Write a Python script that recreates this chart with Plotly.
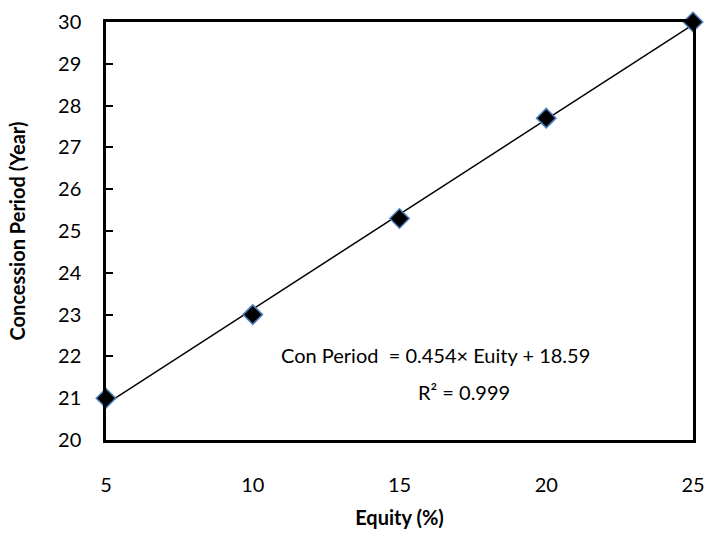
import numpy as np
import plotly.graph_objects as go

equity = [5, 10, 15, 20, 25]
period = [21, 23, 25.3, 27.7, 30]
x_ticks = [5, 10, 15, 20, 25]
y_ticks = list(range(20, 31))

slope, intercept = np.polyfit(equity, period, 1)
fit_x = [min(equity), max(equity)]
fit_y = [slope * v + intercept for v in fit_x]

FONT = "Lato"
FS = 20

fig = go.Figure()
fig.add_trace(go.Scatter(x=fit_x, y=fit_y, mode="lines",
                         line=dict(color="black", width=1.5), showlegend=False,
                         hoverinfo="skip"))
fig.add_trace(go.Scatter(x=equity, y=period, mode="markers",
                         marker=dict(symbol="diamond", size=15, color="black",
                                     line=dict(color="#4F81BD", width=1.5)),
                         showlegend=False, cliponaxis=False))

fig.add_annotation(x=16.24, y=22.03, text="Con Period  = 0.454× Euity + 18.59",
                   showarrow=False, font=dict(family=FONT, size=FS, color="black"),
                   xanchor="center", yanchor="middle")
fig.add_annotation(x=17.2, y=21.15, text="R² = 0.999",
                   showarrow=False, font=dict(family=FONT, size=FS, color="black"),
                   xanchor="center", yanchor="middle")

fig.update_layout(
    width=707, height=551,
    margin=dict(l=106, r=14, t=22, b=111, autoexpand=False),
    paper_bgcolor="white", plot_bgcolor="white",
    font=dict(family=FONT, size=FS, color="black"),
    xaxis=dict(range=[5, 25], tickvals=x_ticks, ticks="", showgrid=False,
               zeroline=False, showline=True, linecolor="black", linewidth=2.5,
               mirror=True, ticklabelstandoff=25, automargin=False,
               ticklabeloverflow="allow",
               title=dict(text="<b>Equity (%)</b>", standoff=17,
                          font=dict(size=FS))),
    yaxis=dict(range=[20, 30], tickvals=y_ticks, ticks="inside", ticklen=7,
               tickwidth=2, tickcolor="black", showgrid=False, zeroline=False,
               showline=True, linecolor="black", linewidth=2.5, mirror=True,
               ticklabelstandoff=18, automargin=False,
               ticklabeloverflow="allow",
               title=dict(text="<b>Concession Period (Year)</b>", standoff=28,
                          font=dict(size=FS))),
)

fig.write_html("out.html", config={"displayModeBar": False},
               post_script="document.body.style.margin='0';document.body.style.padding='0';")
